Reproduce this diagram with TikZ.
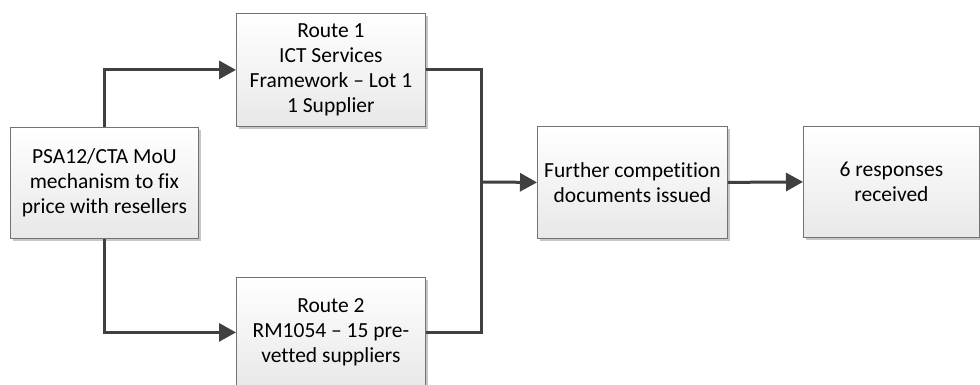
\documentclass[tikz,border=0pt]{standalone}
\usepackage{fontspec}
\setmainfont[Ligatures=NoCommon]{Carlito}
\usetikzlibrary{arrows.meta,shadows}
\begin{document}
\begin{tikzpicture}[x=1pt,y=-1pt,
  box/.style={draw=black!55, line width=0.8pt, top color=white, bottom color=black!9,
    align=center, font=\fontsize{21.5}{25}\selectfont, inner sep=0pt, anchor=north west,
    drop shadow={shadow xshift=3pt, shadow yshift=-3pt, fill=black!22, opacity=1}},
  link/.style={draw=black!75, line width=3pt},
  conn/.style={link, -{Triangle[length=17pt,width=18pt]}}]
\useasboundingbox (0,0) rectangle (980,385);
\node[box, minimum width=188pt, minimum height=111pt] (psa) at (10,127)
  {PSA12/CTA MoU\\mechanism to fix\\price with resellers};
\node[box, minimum width=189pt, minimum height=113pt] (r1) at (236,13)
  {Route 1\\ICT Services\\Framework -- Lot 1\\1 Supplier};
\node[box, minimum width=189pt, minimum height=110pt] (r2) at (236,277)
  {Route 2\\RM1054 -- 15 pre-\\vetted suppliers};
\node[box, minimum width=190pt, minimum height=112pt] (fc) at (537,126)
  {Further competition\\documents issued};
\node[box, minimum width=176pt, minimum height=111pt] (resp) at (803,126)
  {6 responses\\received};
\coordinate (m) at (481,182);
\draw[conn] (psa.north) |- (r1.west);
\draw[conn] (psa.south) |- (r2.west);
\draw[link] (r1.east) -| (m);
\draw[link] (r2.east) -| (m);
\draw[conn] (m) -- (fc.west);
\draw[conn] (fc.east) -- (resp.west);
\end{tikzpicture}
\end{document}
